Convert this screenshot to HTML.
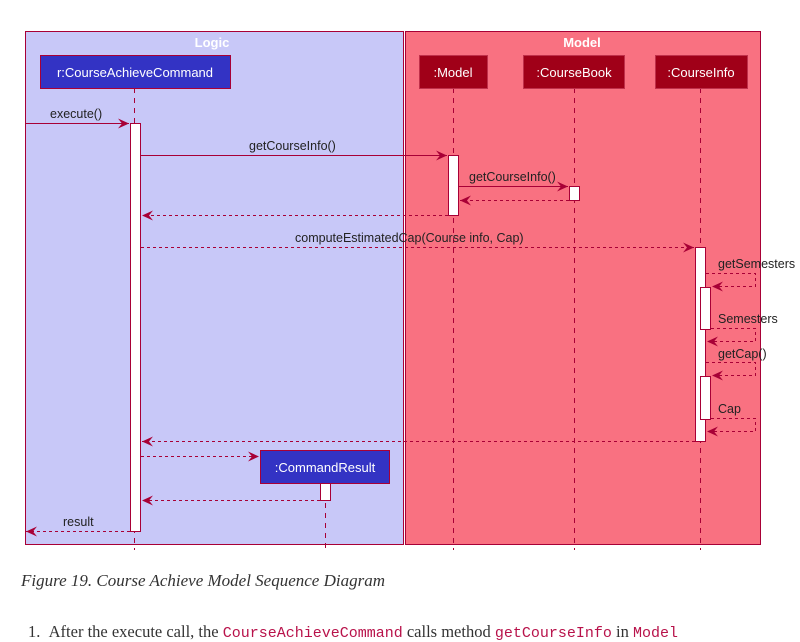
<!DOCTYPE html>
<html><head><meta charset="utf-8"><style>
html,body{margin:0;padding:0;background:#fff;width:800px;height:624px;overflow:hidden}
svg{position:absolute;left:0;top:0}
.cap{position:absolute;left:21px;top:571px;font-family:"Liberation Serif",serif;font-style:italic;font-size:17px;color:#333}
.txt{position:absolute;left:28px;top:622px;font-family:"Liberation Serif",serif;font-size:16.5px;color:#333;white-space:nowrap}
.c{font-family:"Liberation Mono",monospace;color:#b8124a;font-size:15px}
</style></head><body>
<svg width="800" height="624" xmlns="http://www.w3.org/2000/svg" font-family="Liberation Sans, sans-serif">
<defs>
<marker id="a" markerWidth="12" markerHeight="10" refX="11" refY="5" orient="auto" markerUnits="userSpaceOnUse"><path d="M0,0 L11,5 L0,10 L4,5 Z" fill="#A80036"/></marker>
</defs>
<rect x="25.5" y="31.5" width="378" height="513" fill="#C8C8F8" stroke="#A80036"/>
<rect x="405.5" y="31.5" width="355" height="513" fill="#F97181" stroke="#A80036"/>
<text x="212" y="47" text-anchor="middle" font-size="13" font-weight="bold" fill="#fff">Logic</text>
<text x="582" y="47" text-anchor="middle" font-size="13" font-weight="bold" fill="#fff">Model</text>
<g stroke="#A80036" stroke-dasharray="5,5" stroke-width="1">
<line x1="134.5" y1="88" x2="134.5" y2="550"/>
<line x1="453.5" y1="88" x2="453.5" y2="550"/>
<line x1="574.5" y1="88" x2="574.5" y2="550"/>
<line x1="700.5" y1="88" x2="700.5" y2="550"/>
<line x1="325.5" y1="483" x2="325.5" y2="550"/>
</g>
<rect x="40.5" y="55.5" width="190" height="33" fill="#3333C4" stroke="#A80036"/>
<text x="135" y="77" text-anchor="middle" font-size="13" fill="#fff">r:CourseAchieveCommand</text>
<rect x="419.5" y="55.5" width="68" height="33" fill="#A00018" stroke="#C0304a"/>
<text x="453" y="77" text-anchor="middle" font-size="13" fill="#fff">:Model</text>
<rect x="523.5" y="55.5" width="101" height="33" fill="#A00018" stroke="#C0304a"/>
<text x="574" y="77" text-anchor="middle" font-size="13" fill="#fff">:CourseBook</text>
<rect x="655.5" y="55.5" width="92" height="33" fill="#A00018" stroke="#C0304a"/>
<text x="701" y="77" text-anchor="middle" font-size="13" fill="#fff">:CourseInfo</text>
<g fill="#fff" stroke="#A80036">
<rect x="130.5" y="123.5" width="10" height="408"/>
<rect x="448.5" y="155.5" width="10" height="60"/>
<rect x="569.5" y="186.5" width="10" height="14"/>
<rect x="695.5" y="247.5" width="10" height="194"/>
<rect x="700.5" y="287.5" width="10" height="42"/>
<rect x="700.5" y="376.5" width="10" height="43"/>
<rect x="320.5" y="483.5" width="10" height="17"/>
</g>
<rect x="260.5" y="450.5" width="129" height="33" fill="#3333C4" stroke="#A80036"/>
<text x="325" y="472" text-anchor="middle" font-size="13" fill="#fff">:CommandResult</text>
<g stroke="#A80036" fill="none" marker-end="url(#a)">
<line x1="25" y1="123.5" x2="129" y2="123.5"/>
<line x1="141" y1="155.5" x2="447" y2="155.5"/>
<line x1="459" y1="186.5" x2="568" y2="186.5"/>
</g>
<g stroke="#A80036" fill="none" stroke-dasharray="3,3" marker-end="url(#a)">
<line x1="569" y1="200.5" x2="460" y2="200.5"/>
<line x1="448" y1="215.5" x2="142" y2="215.5"/>
<line x1="141" y1="247.5" x2="694" y2="247.5"/>
<polyline points="706,273.5 755.5,273.5 755.5,286.5 712,286.5"/>
<polyline points="711,328.5 755.5,328.5 755.5,341.5 707,341.5"/>
<polyline points="706,362.5 755.5,362.5 755.5,375.5 712,375.5"/>
<polyline points="711,418.5 755.5,418.5 755.5,431.5 707,431.5"/>
<line x1="695" y1="441.5" x2="142" y2="441.5"/>
<line x1="141" y1="456.5" x2="259" y2="456.5"/>
<line x1="320" y1="500.5" x2="142" y2="500.5"/>
<line x1="130" y1="531.5" x2="26" y2="531.5"/>
</g>
<g font-size="12.5" fill="#222">
<text x="50" y="118">execute()</text>
<text x="249" y="150">getCourseInfo()</text>
<text x="469" y="181">getCourseInfo()</text>
<text x="295" y="242">computeEstimatedCap(Course info, Cap)</text>
<text x="718" y="268">getSemesters</text>
<text x="718" y="323">Semesters</text>
<text x="718" y="358">getCap()</text>
<text x="718" y="413">Cap</text>
<text x="63" y="526">result</text>
</g>
</svg>
<div class="cap">Figure 19. Course Achieve Model Sequence Diagram</div>
<div class="txt">1.&nbsp;&nbsp;After the execute call, the <span class="c">CourseAchieveCommand</span> calls method <span class="c">getCourseInfo</span> in <span class="c">Model</span></div>
</body></html>
